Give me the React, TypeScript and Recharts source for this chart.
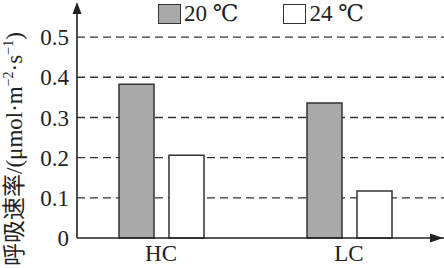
import { BarChart, Bar, XAxis, YAxis, CartesianGrid } from 'recharts';

const categories = ['HC', 'LC'];
const temp20 = [0.383, 0.336];
const temp24 = [0.206, 0.117];
const seriesNames = ['20 ℃', '24 ℃'];
const yTicks = [0, 0.1, 0.2, 0.3, 0.4, 0.5];

const data = categories.map((c, i) => ({ name: c, t20: temp20[i], t24: temp24[i] }));

const INK = '#222';
const SERIF = 'Liberation Serif, Times New Roman, DejaVu Serif, serif';
const CJK = 'Liberation Serif, Noto Sans CJK SC, serif';

function YLabel() {
  // anchored at its start (bottom), reading upwards
  const cx = 14;
  const cy = 266;
  return (
    <text
      x={cx}
      y={cy}
      transform={`rotate(-90, ${cx}, ${cy})`}
      textAnchor="start"
      dominantBaseline="central"
      fill={INK}
      fontSize={23}
      fontFamily={CJK}
    >
      呼吸速率/(μmol·m
      <tspan dy={-6} fontSize={14}>−2</tspan>
      <tspan dy={6}>·s</tspan>
      <tspan dy={-6} fontSize={14}>−1</tspan>
      <tspan dy={6}>)</tspan>
    </text>
  );
}

export default function App() {
  const fills = ['#a9a9a9', '#ffffff'];
  return (
    <div style={{ position: 'absolute', left: 0, top: 0, width: 444, height: 268 }}>
      <BarChart
        width={444}
        height={268}
        data={data}
        margin={{ top: 5, right: 0, bottom: 0, left: 0 }}
        barSize={35}
        barGap={15}
      >
        <CartesianGrid
          horizontal
          vertical={false}
          horizontalValues={yTicks.filter((v) => v > 0)}
          stroke="#333"
          strokeWidth={1.4}
          strokeDasharray="8 5"
        />
        <XAxis
          dataKey="name"
          padding={{ left: -10, right: 1 }}
          height={30}
          axisLine={{ stroke: INK, strokeWidth: 1.6 }}
          tickLine={false}
          tickSize={0}
          tickMargin={7}
          tick={{ fill: INK, fontSize: 23, fontFamily: SERIF }}
        />
        <YAxis
          width={77}
          domain={[0, 0.58]}
          ticks={yTicks}
          interval={0}
          axisLine={{ stroke: INK, strokeWidth: 1.6 }}
          tickLine={false}
          tickSize={0}
          tickMargin={8}
          tickFormatter={(v: number) => (v === 0 ? '0' : v.toFixed(1))}
          tick={{ fill: INK, fontSize: 23, fontFamily: SERIF }}
          label={<YLabel />}
        />
        <Bar dataKey="t20" name={seriesNames[0]} fill={fills[0]} stroke="#333" strokeWidth={1.5} isAnimationActive={false} />
        <Bar dataKey="t24" name={seriesNames[1]} fill={fills[1]} stroke="#333" strokeWidth={1.5} isAnimationActive={false} />
      </BarChart>
      <svg width={444} height={268} style={{ position: 'absolute', left: 0, top: 0, pointerEvents: 'none' }}>
        <polygon points="77,2 72.5,14 81.5,14" fill={INK} />
        <polygon points="443,238 430,233.5 430,242.5" fill={INK} />
      </svg>
      <div
        style={{
          position: 'absolute',
          top: 0,
          left: 158,
          display: 'flex',
          alignItems: 'center',
          fontFamily: SERIF,
          fontSize: 23,
          color: INK,
          background: '#fff',
          paddingRight: 4,
          lineHeight: '27px',
        }}
      >
        {seriesNames.map((n, i) => (
          <div key={n} style={{ display: 'flex', alignItems: 'center', marginRight: i === 0 ? 45 : 0 }}>
            <span
              style={{
                display: 'inline-block',
                width: 21,
                height: 18,
                background: fills[i],
                border: '1.5px solid #333',
                marginRight: 3,
              }}
            />
            <span>{n}</span>
          </div>
        ))}
      </div>
    </div>
  );
}
